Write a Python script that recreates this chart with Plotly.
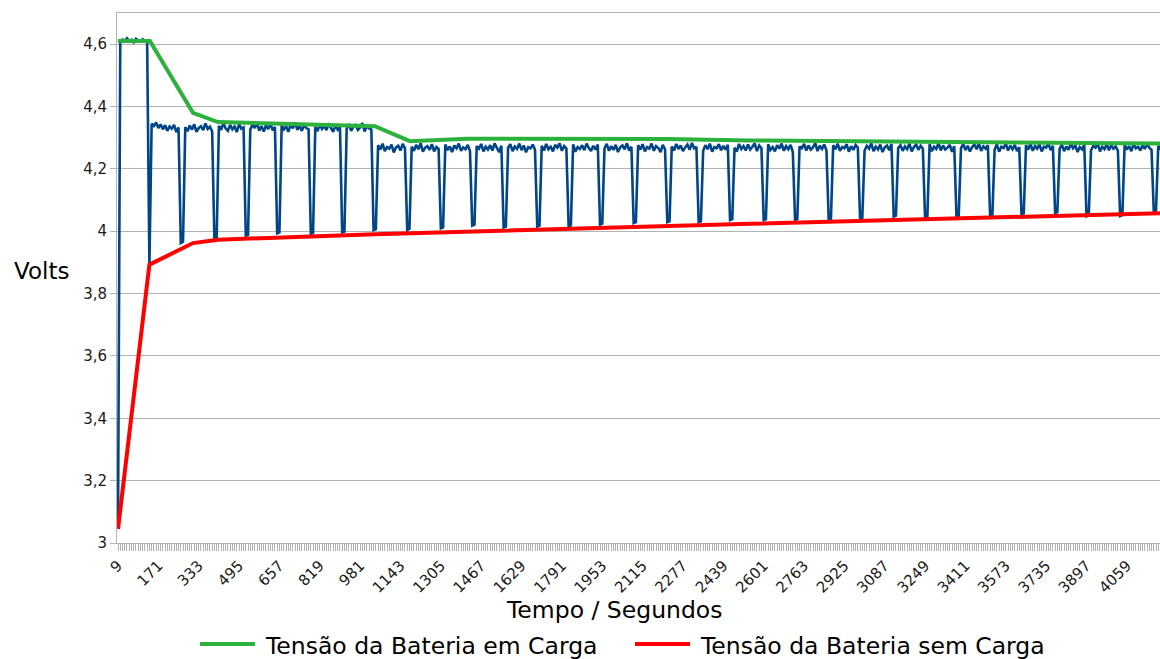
import plotly.graph_objects as go

# Logger sample period (seconds); each reading is one category on the time axis
SAMPLE_STEP = 9

# Measured battery voltage, one reading per sample
tensao_medida = [
    3.050,
    4.608, 4.615, 4.611, 4.619, 4.609, 4.614, 4.606, 4.617, 4.612, 4.608, 4.616, 4.610, 4.607,
    3.890,
    4.345, 4.338, 4.349, 4.331, 4.343, 4.327, 4.340, 4.322, 4.336, 4.329, 4.341, 4.318, 4.333,
    3.962, 3.966,
    4.334, 4.321, 4.339, 4.326, 4.343, 4.319, 4.331, 4.337, 4.324, 4.346, 4.328, 4.335, 4.320,
    3.971, 3.974,
    4.338, 4.325, 4.347, 4.330, 4.322, 4.341, 4.327, 4.336, 4.318, 4.344, 4.329, 4.333,
    3.985, 3.988,
    4.326, 4.342, 4.331, 4.348, 4.323, 4.337, 4.320, 4.339, 4.328, 4.345, 4.324, 4.334,
    3.993, 3.996,
    4.341, 4.327, 4.336, 4.319, 4.344, 4.330, 4.349, 4.325, 4.338, 4.322, 4.340, 4.331, 4.327,
    3.991, 3.994,
    4.335, 4.321, 4.343, 4.328, 4.338, 4.324, 4.346, 4.331, 4.319, 4.340, 4.326, 4.337,
    3.996, 3.999,
    4.329, 4.344, 4.322, 4.336, 4.341, 4.325, 4.333, 4.347, 4.320, 4.338, 4.330, 4.326,
    4.004, 4.007,
    4.276, 4.262, 4.281, 4.257, 4.270, 4.265, 4.278, 4.253, 4.269, 4.274, 4.259, 4.280, 4.266,
    4.004, 4.008,
    4.271, 4.258, 4.277, 4.263, 4.282, 4.255, 4.268, 4.273, 4.261, 4.279, 4.256, 4.270, 4.264,
    4.009, 4.012,
    4.278, 4.260, 4.272, 4.254, 4.275, 4.266, 4.281, 4.258, 4.269, 4.263, 4.277, 4.257,
    4.018, 4.021,
    4.273, 4.265, 4.280, 4.256, 4.271, 4.262, 4.276, 4.259, 4.282, 4.267, 4.254, 4.274,
    4.012, 4.015,
    4.268, 4.279, 4.257, 4.272, 4.264, 4.281, 4.260, 4.275, 4.253, 4.270, 4.266, 4.278, 4.261,
    4.015, 4.018,
    4.274, 4.259, 4.280, 4.263, 4.271, 4.256, 4.277, 4.268, 4.282, 4.258, 4.273, 4.265,
    4.016, 4.019,
    4.279, 4.255, 4.270, 4.264, 4.276, 4.260, 4.281, 4.267, 4.257, 4.274, 4.262, 4.278,
    4.021, 4.024,
    4.266, 4.280, 4.258, 4.273, 4.261, 4.277, 4.254, 4.269, 4.275, 4.263, 4.282, 4.259, 4.271,
    4.026, 4.029,
    4.276, 4.262, 4.279, 4.256, 4.270, 4.265, 4.281, 4.258, 4.273, 4.267, 4.254, 4.277, 4.263,
    4.029, 4.032,
    4.272, 4.259, 4.280, 4.264, 4.275, 4.257, 4.269, 4.278, 4.261, 4.283, 4.266, 4.271,
    4.029, 4.032,
    4.258, 4.276, 4.263, 4.281, 4.255, 4.270, 4.266, 4.279, 4.260, 4.274, 4.262, 4.277,
    4.036, 4.039,
    4.268, 4.255, 4.280, 4.264, 4.273, 4.259, 4.278, 4.262, 4.271, 4.282, 4.257, 4.275, 4.266,
    4.036, 4.039,
    4.279, 4.261, 4.270, 4.256, 4.276, 4.265, 4.281, 4.258, 4.273, 4.263, 4.277, 4.254,
    4.036, 4.039,
    4.272, 4.266, 4.280, 4.259, 4.275, 4.262, 4.269, 4.283, 4.257, 4.274, 4.264, 4.278, 4.260,
    4.037, 4.040,
    4.276, 4.263, 4.281, 4.258, 4.270, 4.266, 4.279, 4.255, 4.273, 4.261, 4.277, 4.268,
    4.040, 4.043,
    4.259, 4.274, 4.265, 4.282, 4.257, 4.271, 4.262, 4.278, 4.254, 4.269, 4.275, 4.260, 4.280,
    4.047, 4.050,
    4.267, 4.276, 4.258, 4.272, 4.263, 4.281, 4.256, 4.270, 4.278, 4.261, 4.274, 4.265,
    4.040, 4.043,
    4.279, 4.257, 4.271, 4.264, 4.283, 4.259, 4.275, 4.262, 4.268, 4.277, 4.255, 4.273,
    4.047, 4.050,
    4.266, 4.280, 4.260, 4.274, 4.256, 4.270, 4.278, 4.263, 4.282, 4.258, 4.272, 4.265, 4.276,
    4.047, 4.050,
    4.261, 4.279, 4.255, 4.271, 4.267, 4.281, 4.259, 4.274, 4.263, 4.277, 4.257, 4.270,
    4.054, 4.057,
    4.276, 4.262, 4.280, 4.258, 4.273, 4.265, 4.279, 4.256, 4.271, 4.268, 4.282, 4.260, 4.274,
    4.058, 4.061,
    4.264, 4.278, 4.257, 4.272, 4.261, 4.281, 4.266, 4.275, 4.254, 4.270, 4.263, 4.277,
    4.048, 4.051,
    4.259, 4.274, 4.268, 4.282, 4.256, 4.271, 4.263, 4.279, 4.260, 4.276, 4.265, 4.272, 4.258,
    4.049, 4.052,
    4.278, 4.262, 4.273, 4.257, 4.280, 4.266, 4.271, 4.259, 4.276, 4.264, 4.281, 4.268, 4.261,
    4.064, 4.067,
    4.274, 4.263, 4.279,
]
tempo = [SAMPLE_STEP * (i + 1) for i in range(len(tensao_medida))]

# Upper envelope: voltage while charging
tempo_carga = [9, 137, 310, 410, 1040, 1181, 1410, 2213, 2546, 4203]
tensao_carga = [4.610, 4.610, 4.380, 4.350, 4.337, 4.289, 4.297, 4.296, 4.291, 4.281]

# Lower envelope: voltage with charging paused
tempo_sem_carga = [9, 135, 310, 410, 1040, 2546, 4203]
tensao_sem_carga = [3.045, 3.893, 3.962, 3.973, 3.990, 4.024, 4.058]

nome_carga = "Tensão da Bateria em Carga"
nome_sem_carga = "Tensão da Bateria sem Carga"

AZUL = "#004586"
VERDE = "#2cb23c"
VERMELHO = "#ff0000"
CINZA = "#b3b3b3"
FONTE = "DejaVu Sans"

# Page geometry (px)
W, H = 1160, 659
ML, MR, MT, MB = 117, 0, 13, 116
PW, PH = W - ML - MR, H - MT - MB


def px_x(x):
    return (x - ML) / PW


def px_y(y):
    return (H - MB - y) / PH


fig = go.Figure()
fig.add_trace(go.Scatter(
    x=tempo, y=tensao_medida, mode="lines", showlegend=False,
    line=dict(color=AZUL, width=2.6, simplify=False), hoverinfo="skip",
))
fig.add_trace(go.Scatter(
    x=tempo_carga, y=tensao_carga, mode="lines", name=nome_carga, showlegend=False,
    line=dict(color=VERDE, width=4),
))
fig.add_trace(go.Scatter(
    x=tempo_sem_carga, y=tensao_sem_carga, mode="lines", name=nome_sem_carga, showlegend=False,
    line=dict(color=VERMELHO, width=4),
))

fig.update_xaxes(
    range=[4.95, 4192],
    tickmode="linear", tick0=9, dtick=162, tickformat="d",
    tickangle=-45,
    ticks="outside", ticklen=7, tickcolor=CINZA, tickwidth=1,
    minor=dict(ticks="outside", tick0=9, dtick=SAMPLE_STEP, ticklen=7, tickcolor=CINZA,
               tickwidth=1, showgrid=False),
    showgrid=False, zeroline=False,
    showline=True, linecolor=CINZA, linewidth=1, mirror=True,
    tickfont=dict(family=FONTE, size=15, color="#1a1a1a"),
)
fig.update_yaxes(
    range=[3, 4.7],
    tickmode="linear", tick0=3, dtick=0.2,
    ticks="outside", ticklen=6, tickcolor=CINZA,
    showgrid=True, gridcolor=CINZA, gridwidth=1, zeroline=False,
    showline=True, linecolor=CINZA, linewidth=1,
    tickfont=dict(family=FONTE, size=15, color="#1a1a1a"),
)

annotations = [
    dict(text="Volts", x=px_x(41), y=px_y(271), xanchor="center", yanchor="middle",
         font=dict(family=FONTE, size=23, color="black")),
    dict(text="Tempo / Segundos", x=px_x(614), y=px_y(610), xanchor="center", yanchor="middle",
         font=dict(family=FONTE, size=23.5, color="black")),
    dict(text=nome_carga, x=px_x(263), y=px_y(646), xanchor="left", yanchor="middle",
         font=dict(family=FONTE, size=23.5, color="black")),
    dict(text=nome_sem_carga, x=px_x(698), y=px_y(646), xanchor="left", yanchor="middle",
         font=dict(family=FONTE, size=23.5, color="black")),
]
for a in annotations:
    a.update(xref="paper", yref="paper", showarrow=False)

shapes = [
    dict(type="line", xref="paper", yref="paper", x0=px_x(200), x1=px_x(255),
         y0=px_y(644), y1=px_y(644), line=dict(color=VERDE, width=4)),
    dict(type="line", xref="paper", yref="paper", x0=px_x(635), x1=px_x(690),
         y0=px_y(644), y1=px_y(644), line=dict(color=VERMELHO, width=4)),
]

fig.update_layout(
    width=W, height=H,
    margin=dict(l=ML, r=MR, t=MT, b=MB, pad=0),
    paper_bgcolor="white", plot_bgcolor="white",
    separators=",.",
    annotations=annotations, shapes=shapes,
    showlegend=False,
)

fig.write_html("out.html")
